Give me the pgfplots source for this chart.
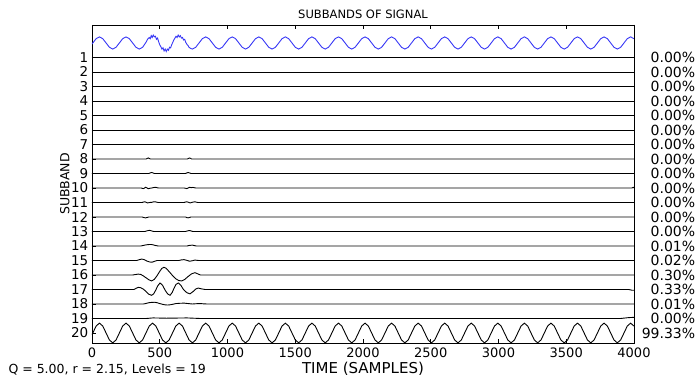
\documentclass[border=0pt]{standalone}
\usepackage{pgfplots}
\pgfplotsset{compat=1.18}
\usepackage{pgfplotstable}
\usepackage{fontspec}
\setmainfont{DejaVu Sans}
\definecolor{sigblue}{RGB}{55,55,245}

% unit sinusoid (period about 196 samples)
\pgfplotstableread[row sep=\\]{
t s\\
0 -0.19\\
6 0\\ 30.5 .707\\ 55 1\\ 79.5 .707\\ 104 0\\ 128.5 -.707\\ 153 -1\\ 177.5 -.707\\
202 0\\ 226.5 .707\\ 251 1\\ 275.5 .707\\ 300 0\\ 324.5 -.707\\ 349 -1\\ 373.5 -.707\\
398 0\\ 422.5 .707\\ 447 1\\ 471.5 .707\\ 496 0\\ 520.5 -.707\\ 545 -1\\ 569.5 -.707\\
594 0\\ 618.5 .707\\ 643 1\\ 667.5 .707\\ 692 0\\ 716.5 -.707\\ 741 -1\\ 765.5 -.707\\
790 0\\ 814.5 .707\\ 839 1\\ 863.5 .707\\ 888 0\\ 912.5 -.707\\ 937 -1\\ 961.5 -.707\\
986 0\\ 1010.5 .707\\ 1035 1\\ 1059.5 .707\\ 1084 0\\ 1108.5 -.707\\ 1133 -1\\ 1157.5 -.707\\
1182 0\\ 1206.5 .707\\ 1231 1\\ 1255.5 .707\\ 1280 0\\ 1304.5 -.707\\ 1329 -1\\ 1353.5 -.707\\
1378 0\\ 1402.5 .707\\ 1427 1\\ 1451.5 .707\\ 1476 0\\ 1500.5 -.707\\ 1525 -1\\ 1549.5 -.707\\
1574 0\\ 1598.5 .707\\ 1623 1\\ 1647.5 .707\\ 1672 0\\ 1696.5 -.707\\ 1721 -1\\ 1745.5 -.707\\
1770 0\\ 1794.5 .707\\ 1819 1\\ 1843.5 .707\\ 1868 0\\ 1892.5 -.707\\ 1917 -1\\ 1941.5 -.707\\
1966 0\\ 1990.5 .707\\ 2015 1\\ 2039.5 .707\\ 2064 0\\ 2088.5 -.707\\ 2113 -1\\ 2137.5 -.707\\
2162 0\\ 2186.5 .707\\ 2211 1\\ 2235.5 .707\\ 2260 0\\ 2284.5 -.707\\ 2309 -1\\ 2333.5 -.707\\
2358 0\\ 2382.5 .707\\ 2407 1\\ 2431.5 .707\\ 2456 0\\ 2480.5 -.707\\ 2505 -1\\ 2529.5 -.707\\
2554 0\\ 2578.5 .707\\ 2603 1\\ 2627.5 .707\\ 2652 0\\ 2676.5 -.707\\ 2701 -1\\ 2725.5 -.707\\
2750 0\\ 2774.5 .707\\ 2799 1\\ 2823.5 .707\\ 2848 0\\ 2872.5 -.707\\ 2897 -1\\ 2921.5 -.707\\
2946 0\\ 2970.5 .707\\ 2995 1\\ 3019.5 .707\\ 3044 0\\ 3068.5 -.707\\ 3093 -1\\ 3117.5 -.707\\
3142 0\\ 3166.5 .707\\ 3191 1\\ 3215.5 .707\\ 3240 0\\ 3264.5 -.707\\ 3289 -1\\ 3313.5 -.707\\
3338 0\\ 3362.5 .707\\ 3387 1\\ 3411.5 .707\\ 3436 0\\ 3460.5 -.707\\ 3485 -1\\ 3509.5 -.707\\
3534 0\\ 3558.5 .707\\ 3583 1\\ 3607.5 .707\\ 3632 0\\ 3656.5 -.707\\ 3681 -1\\ 3705.5 -.707\\
3730 0\\ 3754.5 .707\\ 3779 1\\ 3803.5 .707\\ 3828 0\\ 3852.5 -.707\\ 3877 -1\\ 3901.5 -.707\\
3926 0\\ 3950.5 .707\\ 3975 1\\ 3999.5 .707\\ 4000 .70\\
}\base

% the signal: same sinusoid with a noisy burst near 400-750
\pgfplotstableread[row sep=\\]{
t v\\
0 -0.19\\
6 0\\ 30.5 .707\\ 55 1\\ 79.5 .707\\ 104 0\\ 128.5 -.707\\ 153 -1\\ 177.5 -.707\\
202 0\\ 226.5 .707\\ 251 1\\ 275.5 .707\\ 300 0\\ 324.5 -.707\\ 349 -1\\ 373.5 -.707\\
398 0.1\\ 410 0.6\\ 422 0.9\\ 430 0.7\\ 437 1.2\\ 444 0.9\\ 452 1.3\\ 460 1.0\\ 468 1.1\\ 476 0.6\\ 484 0.8\\ 492 0.2\\
500 -0.3\\ 508 -0.6\\ 516 -1.0\\ 524 -0.8\\ 532 -1.3\\ 540 -1.0\\ 548 -1.4\\ 556 -1.0\\ 564 -1.2\\ 572 -0.7\\ 580 -0.8\\ 588 -0.3\\
596 0.1\\ 604 0.5\\ 612 0.8\\ 620 1.1\\ 628 0.9\\ 636 1.3\\ 644 1.0\\ 652 1.2\\ 660 0.8\\ 668 0.9\\ 676 0.5\\ 684 0.6\\ 692 0.1\\
700 -0.2\\ 708 -0.4\\ 716 -0.7\\ 728 -0.9\\ 741 -1\\ 765.5 -.707\\
790 0\\ 814.5 .707\\ 839 1\\ 863.5 .707\\ 888 0\\ 912.5 -.707\\ 937 -1\\ 961.5 -.707\\
986 0\\ 1010.5 .707\\ 1035 1\\ 1059.5 .707\\ 1084 0\\ 1108.5 -.707\\ 1133 -1\\ 1157.5 -.707\\
1182 0\\ 1206.5 .707\\ 1231 1\\ 1255.5 .707\\ 1280 0\\ 1304.5 -.707\\ 1329 -1\\ 1353.5 -.707\\
1378 0\\ 1402.5 .707\\ 1427 1\\ 1451.5 .707\\ 1476 0\\ 1500.5 -.707\\ 1525 -1\\ 1549.5 -.707\\
1574 0\\ 1598.5 .707\\ 1623 1\\ 1647.5 .707\\ 1672 0\\ 1696.5 -.707\\ 1721 -1\\ 1745.5 -.707\\
1770 0\\ 1794.5 .707\\ 1819 1\\ 1843.5 .707\\ 1868 0\\ 1892.5 -.707\\ 1917 -1\\ 1941.5 -.707\\
1966 0\\ 1990.5 .707\\ 2015 1\\ 2039.5 .707\\ 2064 0\\ 2088.5 -.707\\ 2113 -1\\ 2137.5 -.707\\
2162 0\\ 2186.5 .707\\ 2211 1\\ 2235.5 .707\\ 2260 0\\ 2284.5 -.707\\ 2309 -1\\ 2333.5 -.707\\
2358 0\\ 2382.5 .707\\ 2407 1\\ 2431.5 .707\\ 2456 0\\ 2480.5 -.707\\ 2505 -1\\ 2529.5 -.707\\
2554 0\\ 2578.5 .707\\ 2603 1\\ 2627.5 .707\\ 2652 0\\ 2676.5 -.707\\ 2701 -1\\ 2725.5 -.707\\
2750 0\\ 2774.5 .707\\ 2799 1\\ 2823.5 .707\\ 2848 0\\ 2872.5 -.707\\ 2897 -1\\ 2921.5 -.707\\
2946 0\\ 2970.5 .707\\ 2995 1\\ 3019.5 .707\\ 3044 0\\ 3068.5 -.707\\ 3093 -1\\ 3117.5 -.707\\
3142 0\\ 3166.5 .707\\ 3191 1\\ 3215.5 .707\\ 3240 0\\ 3264.5 -.707\\ 3289 -1\\ 3313.5 -.707\\
3338 0\\ 3362.5 .707\\ 3387 1\\ 3411.5 .707\\ 3436 0\\ 3460.5 -.707\\ 3485 -1\\ 3509.5 -.707\\
3534 0\\ 3558.5 .707\\ 3583 1\\ 3607.5 .707\\ 3632 0\\ 3656.5 -.707\\ 3681 -1\\ 3705.5 -.707\\
3730 0\\ 3754.5 .707\\ 3779 1\\ 3803.5 .707\\ 3828 0\\ 3852.5 -.707\\ 3877 -1\\ 3901.5 -.707\\
3926 0\\ 3950.5 .707\\ 3975 1\\ 3999.5 .707\\ 4000 .70\\
}\sig

\pgfplotsset{
  myaxis/.style={
    scale only axis, width=542pt, height=318pt,
    xmin=0, xmax=4000, ymin=-1.24, ymax=20.69, y dir=reverse,
    /pgf/number format/assume math mode=true,
    /pgf/number format/1000 sep={},
  }
}

\begin{document}
\begin{tikzpicture}
\begin{axis}[myaxis, name=ax, clip mode=individual,
  xtick={0,500,...,4000}, ytick={1,...,20},
  xtick pos=both, ytick pos=left, xticklabel pos=lower,
  tick align=inside, major tick length=4pt,
  tick style={black, line width=0.8pt},
  axis line style={black, line width=0.9pt},
  yticklabel style={inner sep=0pt, xshift=-3.5pt, font=\fontsize{13.5}{15}\selectfont},
  xticklabel style={inner sep=0pt, yshift=-5pt, font=\fontsize{13}{15}\selectfont},
  title={SUBBANDS OF SIGNAL},
  title style={font=\fontsize{11.5}{13}\selectfont, yshift=-3.5pt},
  xlabel={TIME (SAMPLES)},
  xlabel style={font=\fontsize{15}{17}\selectfont, at={(axis description cs:0.5,-0.0959)}, anchor=base},
  ylabel={SUBBAND},
  ylabel style={font=\fontsize{12.5}{14}\selectfont, yshift=-2pt},
  every axis plot/.append style={line width=0.9pt},
]
\addplot[sigblue] table[x=t, y expr={-0.42*\thisrow{v}}] {\sig};
\addplot[black] coordinates {(0,1) (4000,1)};
\addplot[black] coordinates {(0,2) (4000,2)};
\addplot[black] coordinates {(0,3) (4000,3)};
\addplot[black] coordinates {(0,4) (4000,4)};
\addplot[black] coordinates {(0,5) (4000,5)};
\addplot[black] coordinates {(0,6) (4000,6)};
\addplot[black] coordinates {(0,7) (4000,7)};
\addplot[black] coordinates {(0,8) (400,8) (408,7.96) (415,7.93) (422,7.96) (430,8) (705,8) (712,7.96) (720,7.93) (728,7.96) (735,8) (4000,8)};
\addplot[black] coordinates {(0,9) (420,9) (430,8.96) (440,8.93) (450,8.96) (460,9) (690,9) (700,8.96) (710,8.93) (720,8.96) (730,9) (4000,9)};
\addplot[black] coordinates {(0,10) (360,10) (370,10.02) (380,10.04) (388,10) (395,9.95) (405,9.99) (415,10.05) (428,10.02) (440,10) (455,9.97) (470,9.95) (480,9.98) (490,10) (680,10) (690,10.02) (700,10.04) (710,10) (720,9.95) (733,9.98) (745,9.96) (755,9.98) (765,10) (3985,10) (3995,9.95) (4000,10)};
\addplot[black] coordinates {(0,11) (370,11) (380,10.97) (390,10.95) (400,10.99) (410,11.03) (425,11) (440,10.99) (452,10.96) (465,10.95) (478,10.98) (490,11) (680,11) (690,10.97) (700,10.95) (712,10.99) (725,11.03) (742,10.98) (760,10.95) (770,10.98) (780,11) (4000,11)};
\addplot[black] coordinates {(0,12) (370,12) (383,12.04) (395,12.06) (408,12.03) (420,12) (690,12) (700,12.04) (710,12.06) (720,12.03) (730,12) (4000,12)};
\addplot[black] coordinates {(0,13) (390,13) (408,12.95) (425,12.92) (440,12.96) (455,13) (690,13) (705,12.96) (720,12.93) (733,12.97) (745,13) (4000,13)};
\addplot[black] coordinates {(0,14) (360,14) (380,13.96) (400,13.92) (420,13.9) (440,13.9) (455,13.93) (470,13.97) (490,14) (700,14) (720,13.96) (740,13.94) (755,13.97) (770,14) (4000,14)};
\addplot[black] coordinates {(0,15) (330,15) (350,14.94) (367,14.9) (385,14.94) (405,15.04) (425,15.1) (443,15.12) (460,15.06) (480,15) (640,15) (660,14.96) (680,14.94) (700,14.99) (720,15.05) (740,15.02) (760,14.97) (775,14.99) (790,15) (4000,15)};
\addplot[black] coordinates {(0,16) (300,16) (320,15.97) (340,15.94) (360,15.96) (380,16.07) (400,16.2) (420,16.33) (440,16.41) (460,16.3) (480,16.05) (500,15.75) (515,15.55) (530,15.47) (545,15.52) (560,15.67) (580,15.88) (600,16.1) (620,16.27) (640,16.38) (662,16.41) (685,16.3) (710,16.1) (735,15.92) (760,15.84) (780,15.92) (800,16) (4000,16)};
\addplot[black] coordinates {(0,17) (310,17) (325,16.92) (342,16.85) (360,16.88) (380,16.98) (400,17.15) (420,17.33) (440,17.4) (455,17.3) (470,17.05) (485,16.75) (502,16.55) (520,16.7) (540,17.05) (558,17.3) (576,17.4) (592,17.2) (606,16.9) (620,16.65) (637,16.55) (655,16.7) (675,17) (700,17.22) (723,17.3) (745,17.15) (765,16.97) (784,16.9) (805,16.95) (834,17) (3960,17) (3985,17.05) (4000,17.05)};
\addplot[black] coordinates {(0,18) (380,18) (400,17.96) (420,17.91) (440,17.89) (460,17.88) (480,17.91) (500,17.97) (520,18.02) (540,18.06) (560,18.07) (580,18.05) (600,18.01) (620,17.97) (650,17.95) (680,17.94) (710,17.97) (740,18) (770,17.98) (800,17.97) (825,17.99) (850,18) (4000,18)};
\addplot[black] coordinates {(0,19) (400,19) (425,18.98) (450,18.96) (500,18.97) (550,18.98) (625,18.97) (700,18.96) (750,18.98) (800,19) (3900,19) (3930,18.97) (3960,18.94) (4000,18.92)};
\addplot[black] table[x=t, y expr={20-0.68*\thisrow{s}}] {\base};
\node[anchor=base west, font=\fontsize{12.5}{14}\selectfont] at (axis description cs:-0.1605,-0.0959) {Q = 5.00, r = 2.15, Levels = 19};
\end{axis}
\begin{axis}[myaxis,
  axis x line=none, axis y line*=right,
  axis line style={black, line width=0.9pt},
  ytick={1,...,20}, major tick length=0pt,
  yticklabels={0.00\%,0.00\%,0.00\%,0.00\%,0.00\%,0.00\%,0.00\%,0.00\%,0.00\%,0.00\%,0.00\%,0.00\%,0.00\%,0.01\%,0.02\%,0.30\%,0.33\%,0.01\%,0.00\%,99.33\%},
  yticklabel style={anchor=west, inner sep=0pt, xshift=7pt, text width=54pt, align=right, font=\fontsize{14}{15}\selectfont},
]
\addplot[draw=none] coordinates {(0,1)};
\end{axis}
\path ([xshift=-92pt, yshift=-37pt]ax.south west) rectangle ([xshift=65pt, yshift=25pt]ax.north east);
\end{tikzpicture}
\end{document}
